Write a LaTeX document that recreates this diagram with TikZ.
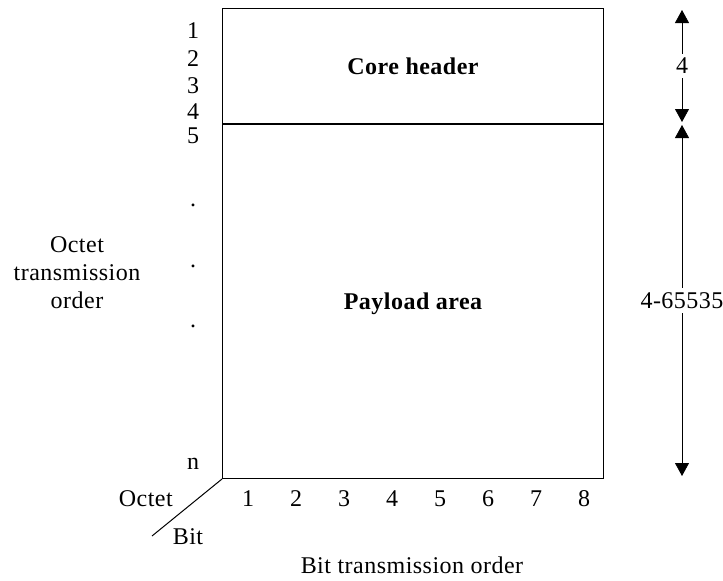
\documentclass[tikz,border=0pt]{standalone}
\usepackage{fontspec}
\setmainfont{Liberation Serif}[LetterSpace=2]
\usetikzlibrary{positioning, arrows.meta}

\begin{document}
\begin{tikzpicture}[
  x=1pt, y=-1pt,
  % Frame fields
  field/.style={rectangle, draw, line width=1pt, minimum width=381pt, inner sep=0pt},
  fieldname/.style={font=\fontsize{24}{28}\selectfont\bfseries, text depth=0pt},
  % Order labels
  tick/.style={font=\fontsize{24}{28}\selectfont, inner sep=1pt},
  % Size arrows
  dim/.style={{Triangle[length=13pt,width=14pt]}-{Triangle[length=13pt,width=14pt]}, line width=0.8pt},
  dimlabel/.style={fill=white, font=\fontsize{24}{28}\selectfont, inner sep=4pt}
  ]
  \useasboundingbox (0,0) rectangle (723,581);

  % --- Frame ---
  \node[field, minimum height=115pt, anchor=north west] (hdr) at (222,8) {};
  \node[field, minimum height=354pt, anchor=north] (payload) at (hdr.south) {};
  \node[fieldname] (hdrname) at (hdr.center) {Core header};
  \node[fieldname] (payname) at (payload.center) {Payload area};

  % --- Octet order ---
  \foreach \n/\y in {1/31, 2/59, 3/86, 4/112, 5/136}
    \node[tick] (oct\n) at (193,\y) {\n};
  \foreach \k/\y in {a/204, b/265, c/325}
    \node[tick, anchor=base] (dot\k) at (193,\y+2) {.};
  \node[tick] (octn) at (193,464) {n};
  \node[tick, align=center] (octorder) at (77,273) {Octet\\transmission\\order};

  % --- Bit order ---
  \foreach \i in {1,...,8}
    \node[tick] (bit\i) at ({248+48*(\i-1)},499) {\i};
  \node[tick, anchor=east] (octetlbl) at (174,499) {Octet};
  \node[tick] (bitlbl) at (188,537) {Bit};
  \coordinate (axisend) at (152,536);
  \draw[line width=1pt] (payload.south west) -- (axisend);
  \node[tick] (bitorder) at (412,565) {Bit transmission order};

  % --- Sizes ---
  \coordinate (hdrtop) at (682,10);
  \coordinate (hdrbot) at (682,122);
  \coordinate (paytop) at (682,125);
  \coordinate (paybot) at (682,476);
  \draw[dim] (hdrtop) -- node[dimlabel] (hdrsize) {4} (hdrbot);
  \draw[dim] (paytop) -- node[dimlabel] (paysize) {4-65535} (paybot);

\end{tikzpicture}
\end{document}
